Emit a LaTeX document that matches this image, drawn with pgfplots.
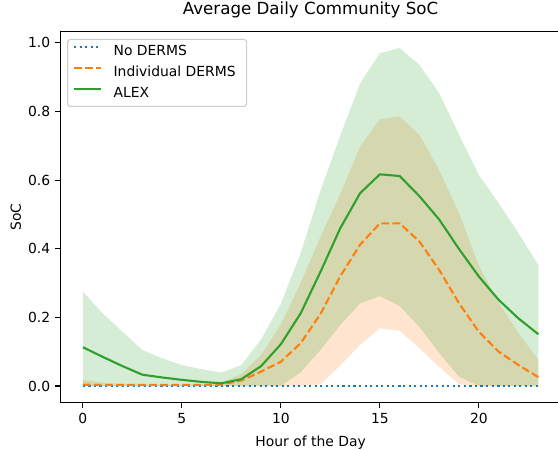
\documentclass[border=0pt]{standalone}
\usepackage{fontspec}
\setmainfont{DejaVu Sans}
\usepackage{pgfplots}
\usepackage{pgfplotstable}
\pgfplotsset{compat=1.18}
\usepgfplotslibrary{fillbetween}
\definecolor{tabblue}{HTML}{1F77B4}
\definecolor{taborange}{HTML}{FF7F0E}
\definecolor{tabgreen}{HTML}{2CA02C}
\definecolor{legedge}{HTML}{CCCCCC}
\pgfplotstableread{
h alex alexu alexl ind indu indl nod
0 0.113 0.275 0 0.004 0.018 0 0
1 0.085 0.212 0 0.003 0.010 0 0
2 0.058 0.158 0 0.003 0.006 0 0
3 0.033 0.105 0 0.003 0.005 0 0
4 0.025 0.081 0 0.003 0.005 0 0
5 0.018 0.061 0 0.003 0.005 0 0
6 0.012 0.049 0 0.003 0.005 0 0
7 0.008 0.039 0 0.004 0.010 0 0
8 0.020 0.061 0 0.016 0.035 0 0
9 0.058 0.136 0 0.042 0.090 0 0
10 0.122 0.240 0 0.071 0.180 0 0
11 0.212 0.388 0.040 0.125 0.300 0 0
12 0.333 0.570 0.105 0.210 0.435 0.005 0
13 0.460 0.730 0.178 0.320 0.560 0.060 0
14 0.562 0.882 0.241 0.412 0.698 0.120 0
15 0.617 0.970 0.262 0.474 0.778 0.168 0
16 0.612 0.985 0.233 0.474 0.785 0.161 0
17 0.553 0.936 0.172 0.421 0.732 0.110 0
18 0.485 0.853 0.096 0.338 0.628 0.056 0
19 0.399 0.732 0.027 0.241 0.503 0.005 0
20 0.319 0.615 0 0.158 0.350 0 0
21 0.251 0.533 0 0.100 0.243 0 0
22 0.197 0.445 0 0.061 0.154 0 0
23 0.151 0.353 0 0.026 0.076 0 0
}\data
\begin{document}
\begin{tikzpicture}
\begin{axis}[
  name=ax,
  scale only axis,
  width=360.6pt, height=267.5pt,
  xmin=-1.15, xmax=24.15,
  ymin=-0.049, ymax=1.034,
  xtick={0,5,10,15,20},
  ytick={0,0.2,0.4,0.6,0.8,1.0},
  xtick pos=lower, ytick pos=left,
  tick align=outside,
  major tick length=3.5pt,
  every tick/.style={black, line width=0.8pt},
  axis line style={line width=0.8pt},
  /pgf/number format/assume math mode=true,
  yticklabel style={/pgf/number format/fixed, /pgf/number format/fixed zerofill, /pgf/number format/precision=1},
  ticklabel style={font=\fontsize{10}{12}\selectfont},
  xticklabel style={inner sep=0pt, text height=7.3pt, anchor=north, yshift=-4pt},
  yticklabel style={inner sep=0pt, anchor=east, xshift=-3.5pt},
  title={Average Daily Community SoC},
  title style={font=\fontsize{12}{14}\selectfont, at={(axis description cs:0.5,1.0224)}, anchor=base, inner sep=0pt},
  xlabel={Hour of the Day},
  xlabel style={font=\fontsize{10}{12}\selectfont, at={(axis description cs:0.5,-0.1163)}, anchor=base, inner sep=0pt},
  ylabel={SoC},
  ylabel style={font=\fontsize{10}{12}\selectfont, at={(axis description cs:-0.0782,0.5)}, anchor=base, inner sep=0pt},
  legend style={at={(axis description cs:0,1)}, anchor=north west, xshift=5pt, yshift=-5.5pt,
    draw=legedge, line width=0.8pt, rounded corners=2pt, fill=white, fill opacity=0.8, text opacity=1,
    font=\fontsize{10}{12}\selectfont, inner xsep=3.9pt, inner ysep=4.1pt, row sep=5pt,
    nodes={inner sep=0pt, text height=7.5pt, text depth=2.5pt},
    /tikz/every odd column/.append style={column sep=8pt}},
  legend cell align=left,
  legend image code/.code={\draw[#1] (0pt,3.6pt) -- (19.7pt,3.6pt); \path (0pt,0pt);},
]
\addplot[name path=iu, draw=none, forget plot] table[x=h, y=indu] {\data};
\addplot[name path=il, draw=none, forget plot] table[x=h, y=indl] {\data};
\addplot[taborange, fill opacity=0.2, draw=none, forget plot] fill between[of=iu and il];
\addplot[name path=au, draw=none, forget plot] table[x=h, y=alexu] {\data};
\addplot[name path=al, draw=none, forget plot] table[x=h, y=alexl] {\data};
\addplot[tabgreen, fill opacity=0.2, draw=none, forget plot] fill between[of=au and al];
\addplot[tabblue, line width=1.5pt, dash pattern=on 1.5pt off 2.475pt] table[x=h, y=nod] {\data};
\addlegendentry{No DERMS}
\addplot[taborange, line width=1.5pt, dash pattern=on 5.55pt off 2.4pt] table[x=h, y=ind] {\data};
\addlegendentry{Individual DERMS\hspace*{4pt}}
\addplot[tabgreen, line width=1.5pt] table[x=h, y=alex] {\data};
\addlegendentry{ALEX}
\end{axis}
\pgfresetboundingbox
\path[use as bounding box] ([xshift=-43.3pt,yshift=-33.3pt]ax.south west) rectangle ([xshift=-2.2pt,yshift=22.5pt]ax.north east);
\end{tikzpicture}
\end{document}
